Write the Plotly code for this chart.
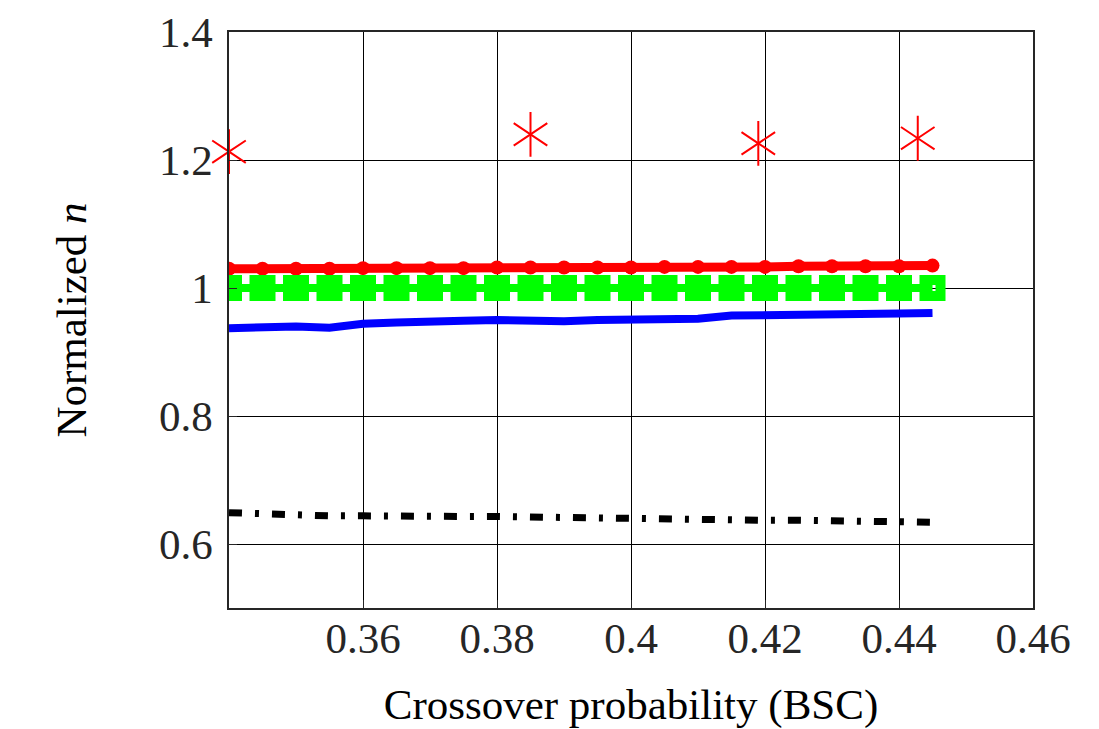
import plotly.graph_objects as go

# Data
p = [0.34, 0.345, 0.35, 0.355, 0.36, 0.365, 0.37, 0.375, 0.38, 0.385, 0.39,
     0.395, 0.40, 0.405, 0.41, 0.415, 0.42, 0.425, 0.43, 0.435, 0.44, 0.445]
red_dots = [1.030, 1.030, 1.030, 1.030, 1.031, 1.031, 1.031, 1.031, 1.032, 1.032, 1.032,
            1.032, 1.032, 1.033, 1.033, 1.033, 1.033, 1.034, 1.034, 1.034, 1.034, 1.035]
green_sq = [1.0] * 22
blue = [0.937, 0.939, 0.940, 0.938, 0.944, 0.946, 0.946, 0.949, 0.950, 0.948, 0.948,
        0.950, 0.951, 0.952, 0.952, 0.957, 0.957, 0.958, 0.958, 0.958, 0.960, 0.961]
black = [0.649, 0.647, 0.645, 0.644, 0.644, 0.643, 0.643, 0.643, 0.643, 0.642, 0.641,
         0.640, 0.639, 0.639, 0.638, 0.638, 0.637, 0.637, 0.636, 0.635, 0.634, 0.634]
star_p = [0.34, 0.385, 0.419, 0.4428]
star_n = [1.213, 1.240, 1.226, 1.234]

x_ticks = [0.36, 0.38, 0.40, 0.42, 0.44, 0.46]
x_ticktext = ["0.36", "0.38", "0.4", "0.42", "0.44", "0.46"]
y_ticks = [0.6, 0.8, 1.0, 1.2, 1.4]
y_ticktext = ["0.6", "0.8", "1", "1.2", "1.4"]

FONT = "Liberation Serif"

fig = go.Figure()
fig.add_trace(go.Scatter(x=p, y=black, mode="lines",
                         line=dict(color="black", width=7, dash="13px,13px,4px,13px")))
fig.add_trace(go.Scatter(x=p, y=blue, mode="lines",
                         line=dict(color="#0000FF", width=8)))
fig.add_trace(go.Scatter(x=p, y=red_dots, mode="lines+markers",
                         line=dict(color="#FF0000", width=9),
                         marker=dict(symbol="circle", size=14, color="#FF0000")))
fig.add_trace(go.Scatter(x=p, y=green_sq, mode="lines+markers",
                         line=dict(color="#00FF00", width=8),
                         marker=dict(symbol="square-open", size=16,
                                     color="#00FF00", line=dict(color="#00FF00", width=10))))
for sym in ["y-up-open", "y-down-open"]:
    fig.add_trace(go.Scatter(x=star_p, y=star_n, mode="markers", cliponaxis=False,
                             marker=dict(symbol=sym, size=28, color="#FF0000",
                                         line=dict(color="#FF0000", width=2))))

axis_common = dict(
    showgrid=True, gridcolor="black", gridwidth=1,
    showline=True, linecolor="#262626", linewidth=1.5, mirror=True,
    ticks="inside", ticklen=8, tickcolor="#262626", zeroline=False,
    automargin=False,
    tickfont=dict(family=FONT, size=43, color="#262626"),
)
fig.update_xaxes(range=[0.34, 0.46], tickvals=x_ticks, ticktext=x_ticktext,
                 ticklabelstandoff=-8,
                 title=dict(text="Crossover probability (BSC)", standoff=38,
                            font=dict(family=FONT, size=43, color="black")),
                 **axis_common)
fig.update_yaxes(range=[0.5, 1.4], tickvals=y_ticks, ticktext=y_ticktext,
                 ticklabelstandoff=6,
                 title=dict(text="Normalized <i>n</i>", standoff=59,
                            font=dict(family=FONT, size=43, color="black")),
                 **axis_common)
fig.update_layout(width=1099, height=729, showlegend=False,
                  margin=dict(l=229, r=66, t=32, b=121),
                  plot_bgcolor="white", paper_bgcolor="white")
fig.write_html("out.html")
